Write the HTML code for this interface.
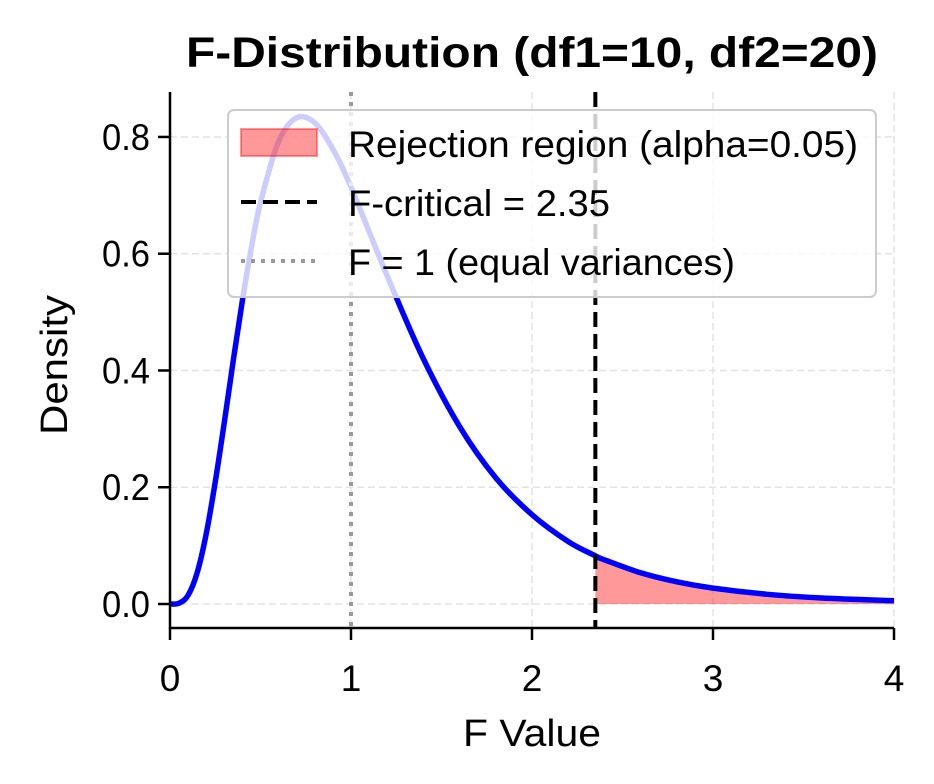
<!DOCTYPE html>
<html><head><meta charset="utf-8"><style>
body{margin:0;background:#fff;}
svg{display:block;font-family:"Liberation Sans",sans-serif;}
</style></head><body>
<svg id="chart" width="934" height="784" viewBox="0 0 934 784">
<rect width="934" height="784" fill="#fff"/>
<g id="grid"></g>
<g id="plot"></g>
<g id="axes"></g>
<text x="532" y="67" text-anchor="middle" font-size="43" font-weight="bold" textLength="692" lengthAdjust="spacingAndGlyphs">F-Distribution (df1=10, df2=20)</text>
<text x="532" y="746" text-anchor="middle" font-size="38" textLength="138" lengthAdjust="spacingAndGlyphs">F Value</text>
<text transform="translate(67,365) rotate(-90)" text-anchor="middle" font-size="38" textLength="140" lengthAdjust="spacingAndGlyphs">Density</text>
<g>
<rect x="228" y="110" width="648" height="187" rx="6" fill="#fff" fill-opacity="0.8" stroke="#ccc" stroke-width="2"/>
<rect x="241" y="129" width="76" height="27" fill="#ff0000" fill-opacity="0.4" stroke="#ff0000" stroke-opacity="0.4" stroke-width="2"/>
<text x="348" y="157" font-size="37" textLength="510" lengthAdjust="spacingAndGlyphs">Rejection region (alpha=0.05)</text>
<line x1="241" y1="202" x2="317" y2="202" stroke="#000" stroke-width="4" stroke-dasharray="15,7"/>
<text x="348" y="216" font-size="37" textLength="262" lengthAdjust="spacingAndGlyphs">F-critical = 2.35</text>
<line x1="241" y1="261" x2="317" y2="261" stroke="#999" stroke-width="4" stroke-dasharray="4,6"/>
<text x="348" y="275" font-size="37" textLength="387" lengthAdjust="spacingAndGlyphs">F = 1 (equal variances)</text>
</g>
</svg>
<script>
const xValues=[0,0.05,0.1,0.15,0.2,0.25,0.3,0.35,0.4,0.45,0.5,0.6,0.7,0.8,0.9,1.0,1.2,1.4,1.6,1.8,2.0,2.2,2.35,2.4,2.6,2.8,3.0,3.3,3.6,4.0];
const densityValues=[0,0.0014,0.015,0.0535,0.12,0.209,0.311,0.418,0.52,0.611,0.688,0.792,0.833,0.824,0.779,0.714,0.562,0.42,0.304,0.216,0.153,0.107,0.0826,0.0757,0.0535,0.038,0.0272,0.0166,0.0103,0.0056];
const fCritical=2.35;
const fEqual=1;
const xTicks=[0,1,2,3,4];
const yTicks=[0,0.2,0.4,0.6,0.8];
const yTickLabels=["0.0","0.2","0.4","0.6","0.8"];

const NS="http://www.w3.org/2000/svg";
const X0=170,X1=894,XMIN=0,XMAX=4,YT=92,YB=628,YMIN=-0.0411,YMAX=0.877;
const sx=v=>X0+(v-XMIN)/(XMAX-XMIN)*(X1-X0);
const sy=v=>YB-(v-YMIN)/(YMAX-YMIN)*(YB-YT);
function mk(tag,attrs,parent){const e=document.createElementNS(NS,tag);for(const k in attrs)e.setAttribute(k,attrs[k]);parent.appendChild(e);return e;}
const grid=document.getElementById('grid'),plot=document.getElementById('plot'),axes=document.getElementById('axes');

xTicks.forEach((t,i)=>{
 const g=mk('line',{x1:sx(t),x2:sx(t),y1:YT,y2:YB,stroke:'#e3e3e3','stroke-width':1.5,'stroke-dasharray':'7,4'},grid);
 
 
 const tk=mk('line',{x1:sx(t),x2:sx(t),y1:YB,y2:YB+12,stroke:'#000','stroke-width':2.5},axes);
 
 
 const lb=mk('text',{x:sx(t),y:YB+63,'text-anchor':'middle','font-size':37},axes);
 lb.textContent=String(t);
 
 
});
yTicks.forEach((t,i)=>{
 const g=mk('line',{x1:X0,x2:X1,y1:sy(t),y2:sy(t),stroke:'#e3e3e3','stroke-width':1.5,'stroke-dasharray':'7,4'},grid);
 
 
 const tk=mk('line',{x1:X0-12,x2:X0,y1:sy(t),y2:sy(t),stroke:'#000','stroke-width':2.5},axes);
 
 
 const lb=mk('text',{x:X0-20,y:sy(t)+13,'text-anchor':'end','font-size':37,textLength:48,lengthAdjust:'spacingAndGlyphs'},axes);
 lb.textContent=yTickLabels[i];
 
 
});
let d='M'+sx(fCritical)+','+sy(0);
xValues.forEach((x,i)=>{if(x>=fCritical)d+=' L'+sx(x)+','+sy(densityValues[i]);});
d+=' L'+sx(XMAX)+','+sy(0)+' Z';
const reg=mk('path',{d:d,fill:'#ff0000','fill-opacity':0.4},plot);


const pts=xValues.map((x,i)=>[sx(x),sy(densityValues[i])]);
let c='M'+pts[0][0]+','+pts[0][1];
for(let i=0;i<pts.length-1;i++){
 const p0=pts[Math.max(0,i-1)],p1=pts[i],p2=pts[i+1],p3=pts[Math.min(pts.length-1,i+2)];
 c+=' C'+(p1[0]+(p2[0]-p0[0])/6)+','+(p1[1]+(p2[1]-p0[1])/6)+' '+(p2[0]-(p3[0]-p1[0])/6)+','+(p2[1]-(p3[1]-p1[1])/6)+' '+p2[0]+','+p2[1];
}
const curve=mk('path',{d:c,fill:'none',stroke:'#0000ff','stroke-width':5.5},plot);


const v1=mk('line',{x1:sx(fEqual),x2:sx(fEqual),y1:YT,y2:YB,stroke:'#999','stroke-width':4,'stroke-dasharray':'4,6'},plot);


const v2=mk('line',{x1:sx(fCritical),x2:sx(fCritical),y1:YT,y2:YB,stroke:'#000','stroke-width':4,'stroke-dasharray':'15,7'},plot);


const sl=mk('line',{x1:X0,x2:X0,y1:YT,y2:YB+1,stroke:'#000','stroke-width':2.5},axes);


const sb=mk('line',{x1:X0-1,x2:X1,y1:YB,y2:YB,stroke:'#000','stroke-width':2.5},axes);


</script>
</body></html>
